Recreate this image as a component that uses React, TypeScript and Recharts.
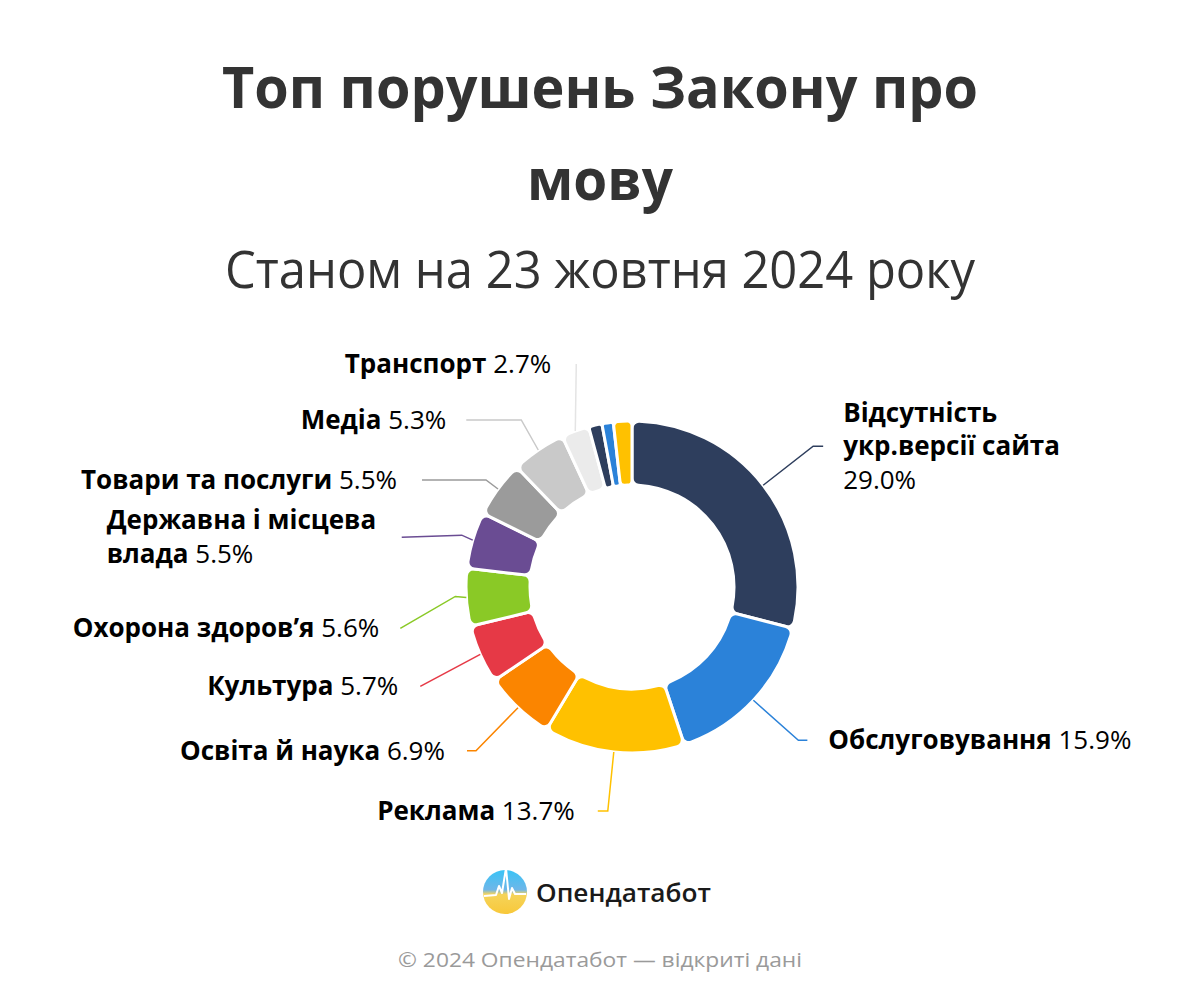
import { Cell, Pie, PieChart, Sector } from "recharts";

const categories = [
  "Відсутність укр.версії сайта",
  "Обслуговування",
  "Реклама",
  "Освіта й наука",
  "Культура",
  "Охорона здоров’я",
  "Державна і місцева влада",
  "Товари та послуги",
  "Медіа",
  "Транспорт",
  "Інше 1",
  "Інше 2",
  "Інше 3",
];

const shares = [29.0, 15.9, 13.7, 6.9, 5.7, 5.6, 5.5, 5.5, 5.3, 2.7, 1.3, 1.1, 1.8];

const colors = [
  "#2E3E5D",
  "#2B82D9",
  "#FFC100",
  "#FB8500",
  "#E63946",
  "#8AC926",
  "#6A4C93",
  "#9B9B9B",
  "#C9C9C9",
  "#EBEBEB",
  "#2E3E5D",
  "#2B82D9",
  "#FFC100",
];

// label text lines (value is appended to the last line, or put on its own line)
const labelLines: Array<string[] | null> = [
  ["Відсутність", "укр.версії сайта"],
  ["Обслуговування"],
  ["Реклама"],
  ["Освіта й наука"],
  ["Культура"],
  ["Охорона здоров’я"],
  ["Державна і місцева", "влада"],
  ["Товари та послуги"],
  ["Медіа"],
  ["Транспорт"],
  null,
  null,
  null,
];

// connector layout: offsets from the slice edge point, side of the label
type Layout = {
  path: Array<[number, number]>;
  side: "left" | "right";
  gap: number;
  valueOwnLine?: boolean;
  boxWidth?: number;
};

const labelLayout: Array<Layout | null> = [
  { path: [[50, -39], [60, -39]], side: "right", gap: 20, valueOwnLine: true },
  { path: [[45, 40], [54, 40]], side: "right", gap: 21 },
  { path: [[-6, 59], [-16, 59]], side: "left", gap: 23 },
  { path: [[-42, 43], [-51, 43]], side: "left", gap: 22 },
  { path: [[-60, 32]], side: "left", gap: 22 },
  { path: [[-11, -1], [-66, 31]], side: "left", gap: 21 },
  { path: [[-11, -5], [-71, -3]], side: "left", gap: 20, boxWidth: 275 },
  { path: [[-12, -9], [-76, -9]], side: "left", gap: 25 },
  { path: [[-17, -30], [-72, -30]], side: "left", gap: 20 },
  { path: [[1, -67]], side: "left", gap: 25 },
  null,
  null,
  null,
];

const data = categories.map((name, i) => ({ name, value: shares[i] }));

const FONT = "'Open Sans', 'Noto Sans', sans-serif";
const RAD = Math.PI / 180;
const LINE_H = 33.5;

const renderLabel = (props: any) => {
  const { cx, cy, midAngle, outerRadius, index, value } = props;
  const lay = labelLayout[index];
  const lines = labelLines[index];
  if (!lay || !lines) return null;
  const sx = cx + outerRadius * Math.cos(-midAngle * RAD);
  const sy = cy + outerRadius * Math.sin(-midAngle * RAD);
  const pts = [[sx, sy], ...lay.path.map(([dx, dy]) => [sx + dx, sy + dy])];
  const [ex, ey] = pts[pts.length - 1];
  const right = lay.side === "right";
  const valueText = `${Number(value).toFixed(1)}%`;
  const color = colors[index];

  const rows: Array<{ bold: string; normal: string }> = lines.map((l, i) => ({
    bold: l,
    normal: !lay.valueOwnLine && i === lines.length - 1 ? ` ${valueText}` : "",
  }));
  if (lay.valueOwnLine) rows.push({ bold: "", normal: valueText });

  let anchor: "start" | "end" = right ? "start" : "end";
  let tx = right ? ex + lay.gap : ex - lay.gap;
  if (lay.boxWidth) {
    anchor = "start";
    tx = ex - lay.gap - lay.boxWidth;
  }
  const firstBaseline = ey + 9 - ((rows.length - 1) * LINE_H) / 2;

  return (
    <g key={`lbl-${index}`}>
      <polyline
        points={pts.map((p) => p.join(",")).join(" ")}
        fill="none"
        stroke={color === "#EBEBEB" ? "#E4E4E4" : color}
        strokeWidth={1.5}
      />
      {rows.map((r, i) => (
        <text
          key={i}
          x={tx}
          y={firstBaseline + i * LINE_H}
          textAnchor={anchor}
          fontFamily={FONT}
          fontSize={26}
          fill="#000"
        >
          {r.bold && <tspan fontWeight={700}>{r.bold}</tspan>}
          {r.normal && <tspan fontWeight={400}>{r.normal}</tspan>}
        </text>
      ))}
    </g>
  );
};

// rounded sectors; thin slices get a smaller corner so they stay pill-shaped
const sliceShape = (props: any) => {
  const span = Math.abs(props.endAngle - props.startAngle);
  const cr = Math.min(7, (span * RAD * props.innerRadius) / 2.6);
  return <Sector {...props} cornerRadius={cr} />;
};

export default function App() {
  return (
    <div
      style={{
        position: "absolute",
        top: 0,
        left: 0,
        width: 1200,
        height: 1000,
        background: "#fff",
      }}
    >
      <svg
        width={1200}
        height={1000}
        style={{ position: "absolute", top: 0, left: 0 }}
      >
        <defs>
          <linearGradient id="logoGrad" x1="0" y1="0" x2="0" y2="1">
            <stop offset="0%" stopColor="#39C3F6" />
            <stop offset="45%" stopColor="#6FB6E8" />
            <stop offset="55%" stopColor="#F5D45A" />
            <stop offset="100%" stopColor="#F8C83A" />
          </linearGradient>
        </defs>
        <text
          x={600}
          y={108}
          textAnchor="middle"
          fontFamily={FONT}
          fontSize={57}
          fontWeight={700}
          fill="#333"
          textLength={756}
          lengthAdjust="spacingAndGlyphs"
        >
          Топ порушень Закону про
        </text>
        <text
          x={600}
          y={200}
          textAnchor="middle"
          fontFamily={FONT}
          fontSize={57}
          fontWeight={700}
          fill="#333"
          textLength={146}
          lengthAdjust="spacingAndGlyphs"
        >
          мову
        </text>
        <text
          x={600}
          y={288}
          textAnchor="middle"
          fontFamily={FONT}
          fontSize={51}
          fontWeight={500}
          fill="#333"
          textLength={750}
          lengthAdjust="spacingAndGlyphs"
        >
          Станом на 23 жовтня 2024 року
        </text>

        <circle cx={505} cy={892} r={22} fill="url(#logoGrad)" />
        <polyline
          points="484,896 496,895 499,886 502,893 506,868 509,899 512,888 515,894 526,894"
          fill="none"
          stroke="#fff"
          strokeWidth={2}
          strokeLinejoin="round"
        />
        <text
          x={536}
          y={902}
          fontFamily={FONT}
          fontSize={26}
          fontWeight={600}
          fill="#1A1A1A"
          textLength={175}
          lengthAdjust="spacingAndGlyphs"
        >
          Опендатабот
        </text>
        <text
          x={600}
          y={967}
          textAnchor="middle"
          fontFamily={FONT}
          fontSize={20}
          fill="#9A9A9A"
          textLength={404}
          lengthAdjust="spacingAndGlyphs"
        >
          © 2024 Опендатабот — відкриті дані
        </text>
      </svg>

      <div style={{ position: "absolute", top: 0, left: 0 }}>
        <PieChart
          width={1200}
          height={1000}
          margin={{ top: 0, right: 0, bottom: 0, left: 0 }}
        >
          <Pie
            data={data}
            dataKey="value"
            nameKey="name"
            cx={632}
            cy={587}
            innerRadius={102}
            outerRadius={166}
            startAngle={90}
            endAngle={-270}
            stroke="#fff"
            strokeWidth={3}
            cornerRadius={7}
            shape={sliceShape}
            inactiveShape={sliceShape}
            activeShape={sliceShape}
            label={renderLabel}
            labelLine={false}
            isAnimationActive={false}
          >
            {data.map((entry, i) => (
              <Cell key={entry.name} fill={colors[i]} />
            ))}
          </Pie>
        </PieChart>
      </div>
    </div>
  );
}
